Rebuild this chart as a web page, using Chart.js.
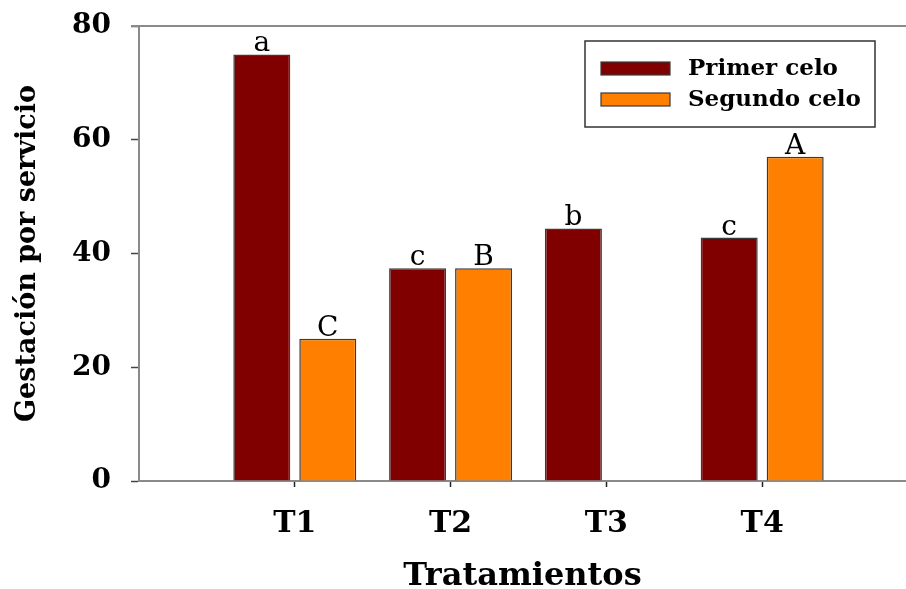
<!DOCTYPE html>
<html lang="es">
<head>
  <meta charset="UTF-8">
  <title>Gestación por servicio</title>
  <script src="https://cdn.jsdelivr.net/npm/chart.js"></script>
  <style>
    body{margin:0;background:#fff;}
    canvas{display:block;}
  </style>
</head>
<body>
  <canvas id="myChart" width="906" height="589"></canvas>
  <script>
    //data
    const categories = ['T1', 'T2', 'T3', 'T4'];
    const primerCelo = [75, 37.4, 44.4, 42.8];
    const segundoCelo = [25, 37.4, null, 57];
    const letrasPrimer = ['a', 'c', 'b', 'c'];
    const letrasSegundo = ['C', 'B', '', 'A'];
    const yTicks = [0, 20, 40, 60, 80];

    const serif = 'DejaVu Serif';
    const axisGray = '#8a8a8a';

    const toPoints = arr => arr.map((v, i) => ({ x: i + 1, y: v }));

    //letters above each bar
    const barLetters = {
      id: 'barLetters',
      afterDatasetsDraw(chart) {
        const { ctx } = chart;
        const sets = [letrasPrimer, letrasSegundo];
        ctx.save();
        ctx.font = '28px "' + serif + '"';
        ctx.fillStyle = '#000';
        ctx.textAlign = 'center';
        ctx.textBaseline = 'alphabetic';
        chart.data.datasets.forEach((ds, d) => {
          chart.getDatasetMeta(d).data.forEach((bar, i) => {
            if (ds.data[i].y == null || !sets[d][i]) return;
            ctx.fillText(sets[d][i], bar.x, bar.y - 3);
          });
        });
        ctx.restore();
      }
    };

    //top frame line + legend box
    const frameAndLegend = {
      id: 'frameAndLegend',
      afterDraw(chart) {
        const { ctx, chartArea: { top, left, right } } = chart;
        ctx.save();
        ctx.strokeStyle = axisGray;
        ctx.lineWidth = 2;
        ctx.beginPath();
        ctx.moveTo(left - 8, top);
        ctx.lineTo(right, top);
        ctx.stroke();

        // legend
        const bx = right - 321, by = top + 15, bw = 290, bh = 86;
        ctx.fillStyle = '#fff';
        ctx.fillRect(bx, by, bw, bh);
        ctx.strokeStyle = '#333';
        ctx.lineWidth = 1.5;
        ctx.strokeRect(bx, by, bw, bh);
        ctx.font = 'bold 23px "' + serif + '"';
        ctx.textBaseline = 'middle';
        chart.data.datasets.forEach((ds, i) => {
          const sy = by + 21 + i * 31;
          ctx.fillStyle = ds.backgroundColor;
          ctx.fillRect(bx + 16, sy, 69, 13);
          ctx.strokeStyle = '#3a3a3a';
          ctx.lineWidth = 1.2;
          ctx.strokeRect(bx + 16, sy, 69, 13);
          ctx.fillStyle = '#000';
          ctx.fillText(ds.label, bx + 103, sy + 7);
        });
        ctx.restore();
      }
    };

    const config = {
      type: 'bar',
      data: {
        datasets: [{
          label: 'Primer celo',
          data: toPoints(primerCelo),
          backgroundColor: '#800000',
          borderColor: '#3a3a3a',
          borderWidth: 1.5,
          categoryPercentage: 0.847,
          barPercentage: 0.864
        }, {
          label: 'Segundo celo',
          data: toPoints(segundoCelo),
          backgroundColor: '#ff8000',
          borderColor: '#3a3a3a',
          borderWidth: 1.5,
          categoryPercentage: 0.847,
          barPercentage: 0.864
        }]
      },
      options: {
        responsive: false,
        animation: false,
        layout: { padding: { top: 26, right: 0, left: 0, bottom: 0 } },
        scales: {
          x: {
            type: 'linear',
            min: 0,
            max: 4.923,
            offset: false,
            afterBuildTicks: s => { s.ticks = categories.map((c, i) => ({ value: i + 1 })); },
            afterFit: s => { s.height = 108; s.paddingLeft = 0; s.paddingRight = 0; },
            grid: { drawOnChartArea: false, offset: false, tickLength: 6, tickColor: '#222', tickWidth: 1.5 },
            border: { color: axisGray, width: 2 },
            ticks: {
              callback: v => categories[v - 1],
              color: '#000',
              font: { family: serif, weight: 'bold', size: 30 },
              padding: 19,
              maxRotation: 0
            },
            title: {
              display: true,
              text: 'Tratamientos',
              color: '#000',
              font: { family: serif, weight: 'bold', size: 32, lineHeight: 0.8 },
              padding: { top: 0, bottom: 0 }
            }
          },
          y: {
            min: 0,
            max: 80,
            afterBuildTicks: s => { s.ticks = yTicks.map(v => ({ value: v })); },
            afterFit: s => { s.width = 139; s.paddingTop = 0; s.paddingBottom = 0; },
            grid: { drawOnChartArea: false, tickLength: 8, tickColor: '#444', tickWidth: 1.5 },
            border: { color: axisGray, width: 2 },
            ticks: {
              color: '#000',
              font: { family: serif, weight: 'bold', size: 28 },
              padding: 20
            },
            title: {
              display: true,
              text: 'Gestación por servicio',
              color: '#000',
              font: { family: serif, weight: 'bold', size: 27, lineHeight: 1.2 },
              padding: { top: 12, bottom: 12 }
            }
          }
        },
        plugins: {
          legend: { display: false },
          tooltip: { enabled: false }
        }
      },
      plugins: [barLetters, frameAndLegend]
    };

    const myChart = new Chart(document.getElementById('myChart'), config);
  </script>
</body>
</html>
